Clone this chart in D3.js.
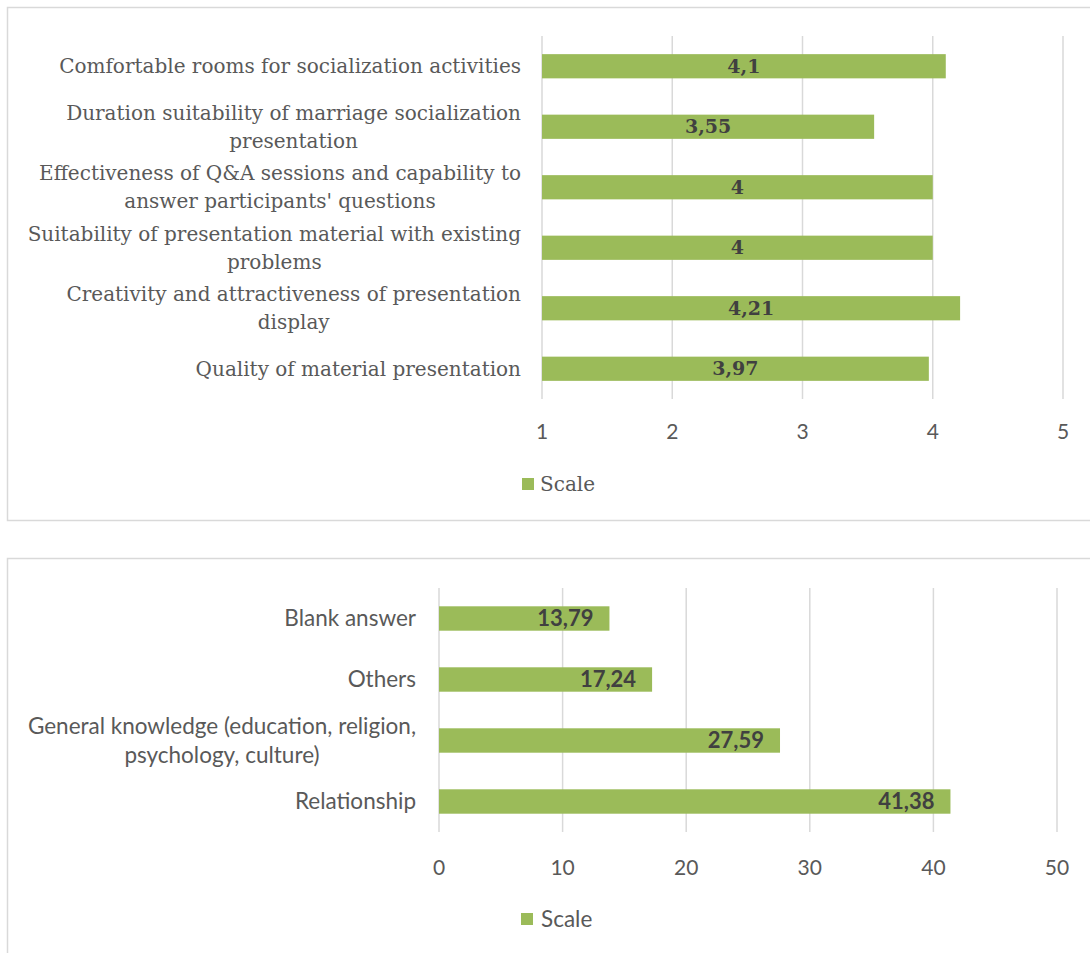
<!DOCTYPE html>
<html>
<head>
<meta charset="utf-8">
<script src="https://cdn.jsdelivr.net/npm/d3@7"></script>
<style>
  body { margin: 0; background: #fff; }
  svg { display: block; }
</style>
</head>
<body>
<svg id="chart" width="1090" height="953"></svg>
<script>
// --- data ---
var evalCategories = [
  'Comfortable rooms for socialization activities',
  'Duration suitability of marriage socialization\npresentation',
  "Effectiveness of Q&A sessions and capability to\nanswer participants' questions",
  'Suitability of presentation material with existing\nproblems',
  'Creativity and attractiveness of presentation\ndisplay',
  'Quality of material presentation'
];
var evalValues = [4.1, 3.55, 4, 4, 4.21, 3.97];
var evalTicks = [1, 2, 3, 4, 5];

var topicCategories = [
  'Blank answer',
  'Others',
  'General knowledge (education, religion,\npsychology, culture)',
  'Relationship'
];
var topicValues = [13.79, 17.24, 27.59, 41.38];
var topicTicks = [0, 10, 20, 30, 40, 50];

var seriesName = 'Scale';

// --- styling ---
var GREEN = '#9bbb59';
var GRID = '#d9d9d9';
var LABEL = '#595959';
var VALUE = '#404040';
var SERIF = "'DejaVu Serif', 'Liberation Serif', serif";
var SANS = "Lato, 'Open Sans', sans-serif";

var comma = d3.formatLocale({decimal: ',', thousands: '.', grouping: [3], currency: ['', '']}).format('.4~g');

var svg = d3.select('#chart');

function drawChart(opts) {
  var g = svg.append('g');

  // frame
  g.append('rect')
    .attr('x', opts.frame[0]).attr('y', opts.frame[1])
    .attr('width', opts.frame[2]).attr('height', opts.frame[3])
    .attr('fill', 'none').attr('stroke', GRID).attr('stroke-width', 1.5);

  var x = d3.scaleLinear().domain(opts.domain).range([opts.left, opts.right]);
  var y = d3.scaleBand().domain(opts.categories).range([opts.top, opts.bottom]).paddingInner(0.6).paddingOuter(0.3);

  // gridlines
  g.selectAll('line.grid')
    .data(opts.ticks)
    .enter().append('line')
    .attr('class', 'grid')
    .attr('x1', x).attr('x2', x)
    .attr('y1', opts.top).attr('y2', opts.bottom)
    .attr('stroke', GRID).attr('stroke-width', 1.5);

  // tick labels
  g.selectAll('text.tick')
    .data(opts.ticks)
    .enter().append('text')
    .attr('class', 'tick')
    .attr('x', x)
    .attr('y', opts.tickY)
    .attr('text-anchor', 'middle')
    .attr('dy', '0.35em')
    .attr('fill', LABEL)
    .style('font-family', opts.tickFont)
    .style('font-size', opts.tickSize + 'px')
    .text(function(d) { return d; });

  var rows = opts.categories.map(function(c, i) { return {cat: c, value: opts.values[i]}; });

  // bars
  g.selectAll('rect.bar')
    .data(rows)
    .enter().append('rect')
    .attr('class', 'bar')
    .attr('x', x(opts.domain[0]))
    .attr('y', function(d) { return y(d.cat); })
    .attr('width', function(d) { return x(d.value) - x(opts.domain[0]); })
    .attr('height', y.bandwidth())
    .attr('fill', GREEN);

  // value labels
  g.selectAll('text.value')
    .data(rows)
    .enter().append('text')
    .attr('class', 'value')
    .attr('x', function(d) {
      return opts.valueInsideEnd ? x(d.value) - 16 : (x(opts.domain[0]) + x(d.value)) / 2;
    })
    .attr('y', function(d) { return y(d.cat) + y.bandwidth() / 2; })
    .attr('dy', '0.35em')
    .attr('text-anchor', opts.valueInsideEnd ? 'end' : 'middle')
    .attr('fill', VALUE)
    .style('font-family', opts.labelFont)
    .style('font-weight', 'bold')
    .style('font-size', opts.valueSize + 'px')
    .text(function(d) { return comma(d.value); });

  // category labels (multi-line blocks: lines centred, block right-aligned)
  var cats = g.selectAll('g.cat')
    .data(rows)
    .enter().append('g')
    .attr('class', 'cat');

  cats.each(function(d) {
    var lines = d.cat.split('\n');
    var node = d3.select(this);
    var cy = y(d.cat) + y.bandwidth() / 2;
    var texts = node.selectAll('text')
      .data(lines)
      .enter().append('text')
      .attr('y', function(l, i) { return cy + (i - (lines.length - 1) / 2) * opts.lineHeight; })
      .attr('dy', '0.35em')
      .attr('fill', LABEL)
      .style('font-family', opts.labelFont)
      .style('font-size', opts.labelSize + 'px')
      .text(function(l) { return l; });
    var widths = [];
    texts.each(function() { widths.push(this.getComputedTextLength()); });
    var maxW = d3.max(widths);
    var blockCenter = opts.labelRight - maxW / 2;
    texts.attr('x', blockCenter).attr('text-anchor', 'middle');
  });

  // legend
  var lg = g.append('g').attr('transform', 'translate(' + opts.legend[0] + ',' + opts.legend[1] + ')');
  lg.append('rect')
    .attr('x', 0).attr('y', -6)
    .attr('width', 12).attr('height', 12)
    .attr('fill', GREEN);
  lg.append('text')
    .attr('x', opts.legendGap)
    .attr('dy', '0.35em')
    .attr('fill', LABEL)
    .style('font-family', opts.labelFont)
    .style('font-size', opts.labelSize + 'px')
    .text(seriesName);
}

drawChart({
  frame: [7.5, 7.5, 1100, 513],
  categories: evalCategories,
  values: evalValues,
  ticks: evalTicks,
  domain: [1, 5],
  left: 542, right: 1063,
  top: 36, bottom: 399,
  tickY: 432,
  labelRight: 521,
  lineHeight: 28,
  labelFont: SERIF, labelSize: 20,
  tickFont: SANS, tickSize: 21,
  valueSize: 19,
  valueInsideEnd: false,
  legend: [522, 484], legendGap: 18
});

drawChart({
  frame: [7.5, 558.5, 1100, 420],
  categories: topicCategories,
  values: topicValues,
  ticks: topicTicks,
  domain: [0, 50],
  left: 439, right: 1057,
  top: 588, bottom: 832,
  tickY: 868,
  labelRight: 416,
  lineHeight: 29,
  labelFont: SANS, labelSize: 22.5,
  tickFont: SANS, tickSize: 21,
  valueSize: 22,
  valueInsideEnd: true,
  legend: [521, 919], legendGap: 20
});
</script>
</body>
</html>
